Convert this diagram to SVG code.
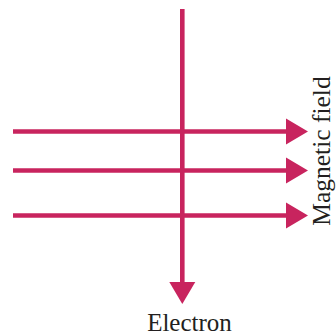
<svg xmlns="http://www.w3.org/2000/svg" width="336" height="335" viewBox="0 0 336 335">
  <style>
    .ln { stroke: #C8245E; stroke-width: 4.6; fill: none; }
    .ah { fill: #C8245E; }
    .lbl { font-family: "Liberation Serif", "Times New Roman", serif; fill: #231F20; }
  </style>
  <rect width="336" height="335" fill="#ffffff"/>
  <g id="connectors">
    <line class="ln" x1="13" y1="131.5" x2="288" y2="131.5"/>
    <polygon class="ah" points="286,118.5 308,131.5 286,144.5"/>
    <line class="ln" x1="13" y1="170.5" x2="288" y2="170.5"/>
    <polygon class="ah" points="286,157.5 308,170.5 286,183.5"/>
    <line class="ln" x1="13" y1="215.5" x2="288" y2="215.5"/>
    <polygon class="ah" points="286,202.5 308,215.5 286,228.5"/>
    <line class="ln" x1="182.3" y1="9" x2="182.3" y2="284"/>
    <polygon class="ah" points="169.3,282 195.3,282 182.3,304"/>
  </g>
  <g id="electron">
    <text class="lbl" x="189.5" y="331" font-size="25" text-anchor="middle">Electron</text>
  </g>
  <g id="magnetic-field">
    <text class="lbl" font-size="25.5" text-anchor="middle" transform="translate(330,151) rotate(-90)">Magnetic field</text>
  </g>
</svg>
